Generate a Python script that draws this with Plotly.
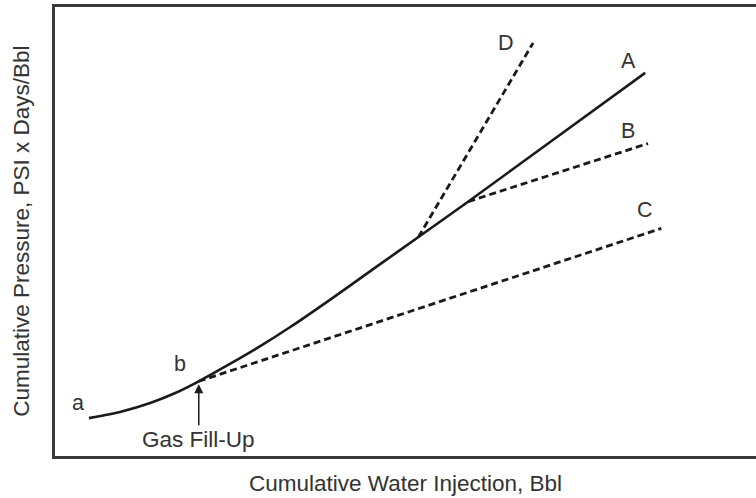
import plotly.graph_objects as go

# Curve A (solid): cumulative water injection vs cumulative pressure (arbitrary units 0-100)
a_x = [4.84, 9.40, 13.68, 17.24, 20.51, 25.07, 29.34, 33.62, 39.32, 45.73, 51.85, 58.97, 71.37, 84.19]
a_y = [8.44, 9.87, 11.87, 14.09, 16.64, 20.62, 24.53, 28.78, 34.89, 42.00, 48.78, 56.67, 70.78, 85.33]
# Dashed branches
b_x = [58.97, 84.6]
b_y = [56.67, 69.6]
c_x = [20.51, 86.5]
c_y = [16.64, 50.7]
d_x = [51.85, 68.2]
d_y = [48.78, 92.0]

# Labels
lbl_text = ["D", "A", "B", "C", "b", "a"]
lbl_x = [64.3, 81.8, 81.8, 84.2, 17.9, 3.3]
lbl_y = [92.0, 88.0, 72.4, 54.9, 20.4, 11.8]

fill_x, fill_y = 20.51, 16.64

line_col = "#1a1a1a"
txt_col = "#333333"
font = "Liberation Sans, Arial, sans-serif"
fs = 22.5

fig = go.Figure()
fig.add_trace(go.Scatter(x=a_x, y=a_y, mode="lines",
                         line=dict(color=line_col, width=2.6, shape="spline", smoothing=0.6),
                         hoverinfo="skip"))
for xs, ys in [(b_x, b_y), (c_x, c_y), (d_x, d_y)]:
    fig.add_trace(go.Scatter(x=xs, y=ys, mode="lines",
                             line=dict(color=line_col, width=2.8, dash="7px,4px"),
                             hoverinfo="skip"))

for t, x, y in zip(lbl_text, lbl_x, lbl_y):
    fig.add_annotation(x=x, y=y, text=t, showarrow=False,
                       font=dict(family=font, size=fs - 1, color=txt_col))

fig.add_annotation(x=fill_x, y=fill_y, text="Gas Fill-Up", showarrow=True,
                   ax=0, ay=58, arrowhead=2, arrowsize=1.2, arrowwidth=1.5,
                   arrowcolor=line_col, standoff=3,
                   font=dict(family=font, size=fs, color=txt_col))

# Axis titles
fig.add_annotation(xref="paper", yref="paper", x=0.5, y=-0.062, yanchor="middle",
                   text="Cumulative Water Injection, Bbl", showarrow=False,
                   font=dict(family=font, size=fs, color=txt_col))
fig.add_annotation(xref="paper", yref="paper", x=-0.048, y=0.5, xanchor="center",
                   text="Cumulative Pressure, PSI x Days/Bbl", showarrow=False, textangle=-90,
                   font=dict(family=font, size=fs, color=txt_col))

fig.update_layout(
    width=756, height=498,
    margin=dict(l=55, r=0, t=7, b=42),
    paper_bgcolor="white", plot_bgcolor="white",
    showlegend=False,
    xaxis=dict(range=[0, 100], showticklabels=False, showgrid=False, zeroline=False,
               showline=True, linecolor="#3a3a3a", linewidth=2.5, mirror=True, ticks=""),
    yaxis=dict(range=[0, 100], showticklabels=False, showgrid=False, zeroline=False,
               showline=True, linecolor="#3a3a3a", linewidth=2.5, ticks=""),
)

fig.write_html("out.html", config={"displayModeBar": False},
               post_script="document.body.style.margin='0';document.body.style.overflow='hidden';")
